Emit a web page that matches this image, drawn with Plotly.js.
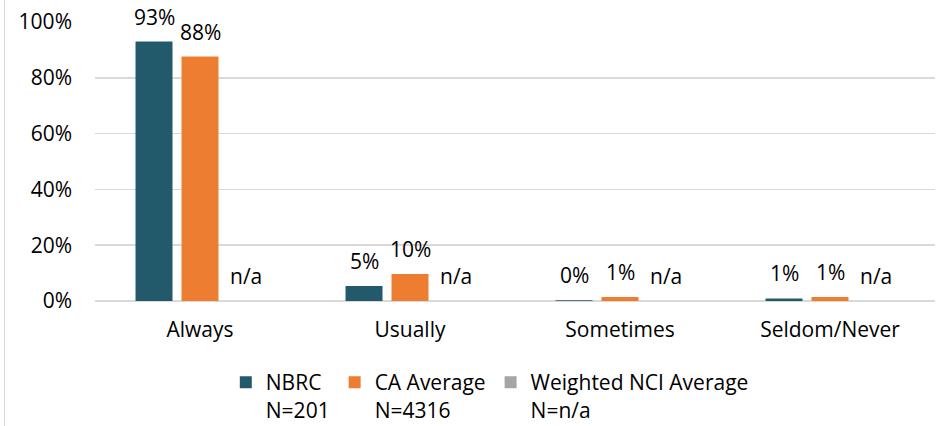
<!DOCTYPE html>
<html>
<head>
<meta charset="utf-8">
<script src="https://cdn.plot.ly/plotly-3.0.1.min.js"></script>
<style>
  html, body { margin: 0; padding: 0; background: #fff; }
  #wrap { width: 941px; height: 426px; position: relative; }
  #wrap:before { content: ''; position: absolute; left: 4px; top: 0; bottom: 0; border-left: 1px solid #d9d9d9; z-index: 5; }
  #plot { width: 941px; height: 426px; }
</style>
</head>
<body>
<div id="wrap"><div id="plot"></div></div>
<script>
const categories = ['Always', 'Usually', 'Sometimes', 'Seldom/Never'];
const nbrc = [93, 5.4, 0.3, 0.9];
const nbrcLabels = ['93%', '5%', '0%', '1%'];
const caAvg = [87.6, 9.7, 1.4, 1.4];
const caLabels = ['88%', '10%', '1%', '1%'];
const nci = [0, 0, 0, 0];
const nciLabels = ['n/a', 'n/a', 'n/a', 'n/a'];
const seriesNames = ['NBRC<br>N=201', 'CA Average<br>N=4316', 'Weighted NCI Average<br>N=n/a'];

const font = 'Open Sans, Noto Sans, sans-serif';
const txt = (size) => ({ family: font, size: size, color: '#000' });
const colors = ['#225a6b', '#ed7d31', '#a5a5a5'];
const series = [[nbrc, nbrcLabels], [caAvg, caLabels], [nci, nciLabels]];

// pixel distance between neighbouring bars in a group
const pitch = 46;

const traces = series.map(([y, t], i) => ({
  type: 'bar', x: categories, y: y, name: seriesNames[i],
  marker: { color: colors[i] }, hoverinfo: 'skip'
}));

// data labels sit a bit higher above the bars, as in the original
const annotations = [];
series.forEach(([y, t], i) => {
  categories.forEach((c, j) => {
    annotations.push({
      x: c, y: y[j], text: t[j], showarrow: false,
      xanchor: 'center', yanchor: 'bottom', yshift: 9,
      xshift: (i - 1) * pitch, font: txt(21)
    });
  });
});

Plotly.newPlot('plot', traces, {
  width: 941, height: 426,
  margin: { l: 95, r: 6, t: 22, b: 125 },
  barmode: 'group', bargap: 0.343, bargroupgap: 0.196,
  font: txt(21),
  annotations: annotations,
  xaxis: { showgrid: false, showline: false, ticks: '', ticklabelstandoff: 14,
           automargin: false, tickfont: txt(21) },
  yaxis: { range: [0, 100], dtick: 20, ticksuffix: '%', showgrid: true, gridcolor: '#d9d9d9',
           gridwidth: 1.5, zeroline: true, zerolinecolor: '#d9d9d9', zerolinewidth: 1.5,
           showline: false, ticklabelstandoff: 22, automargin: false, tickfont: txt(21) },
  showlegend: true,
  legend: { orientation: 'h', x: 0.47, xanchor: 'center', yref: 'container', y: 0.15, yanchor: 'top',
            valign: 'top', font: txt(21), itemwidth: 30, traceorder: 'normal' },
  plot_bgcolor: '#fff', paper_bgcolor: '#fff'
}, { displayModeBar: false, staticPlot: true });
</script>
</body>
</html>
